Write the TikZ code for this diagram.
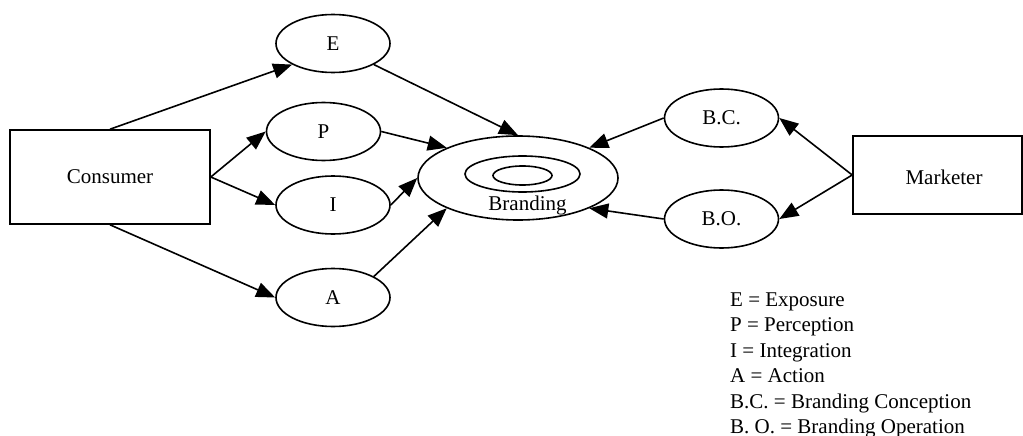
\documentclass[tikz,border=0pt]{standalone}
\usepackage{fontspec}
\setmainfont{Liberation Serif}
\usetikzlibrary{shapes.geometric,arrows.meta}

\begin{document}
\begin{tikzpicture}[x=1pt,y=-1pt,
  every node/.style={inner sep=0pt,font=\fontsize{21}{25.4}\selectfont},
  stage/.style={draw,ellipse,line width=1.6pt,minimum width=114pt,minimum height=58pt},
  party/.style={draw,rectangle,line width=1.6pt},
  ring/.style={draw,ellipse,line width=1.6pt},
  flow/.style={line width=1.6pt,-{Triangle[length=19pt,width=15pt]}},
  legend/.style={anchor=base west}]
  \useasboundingbox (0,0) rectangle (1023,436);

  % actors
  \node[party,minimum width=200pt,minimum height=94pt] (consumer) at (110,177) {Consumer};
  \node[party,minimum width=169pt,minimum height=78pt] (marketer) at (937.5,175) {};
  \node (marketertext) at (944,177) {Marketer};

  % consumer-side stages
  \node[stage] (E) at (333,43.5) {E};
  \node[stage] (P) at (323.5,131.5) {P};
  \node[stage] (I) at (333,205) {I};
  \node[stage] (A) at (333,297.5) {A};

  % marketer-side stages
  \node[stage] (BC) at (721.5,118) {B.C.};
  \node[stage] (BO) at (721.5,219) {B.O.};

  % branding target
  \node[ring,minimum width=200pt,minimum height=84pt] (brand) at (518,178) {};
  \node[ring,minimum width=115pt,minimum height=36pt] (brandmid) at (522.5,174) {};
  \node[ring,minimum width=59pt,minimum height=19pt] (brandcore) at (522.5,175.5) {};
  \node[anchor=base] (brandtext) at (527.5,210) {Branding};

  % consumer flows
  \draw[flow] (consumer.north) -- (E.south west);
  \draw[flow] (consumer.east) -- (P.west);
  \draw[flow] (consumer.east) -- (I.west);
  \draw[flow] (consumer.south) -- (A.west);

  \draw[flow] (E.south east) -- (brand.north);
  \draw[flow] (P.east) -- (brand.north west);
  \draw[flow] (I.east) -- (brand.west);
  \draw[flow] (A.north east) -- (brand.south west);

  % marketer flows
  \draw[flow] (marketer.west) -- (BC.east);
  \draw[flow] (marketer.west) -- (BO.east);
  \draw[flow] (BC.west) -- (brand.north east);
  \draw[flow] (BO.west) -- (brand.south east);

  % key
  \node[legend] (leg1) at (730,306) {E = Exposure};
  \node[legend] (leg2) at (730,331.5) {P = Perception};
  \node[legend] (leg3) at (730,357) {I = Integration};
  \node[legend] (leg4) at (730,382.5) {A = Action};
  \node[legend] (leg5) at (730,408) {B.C. = Branding Conception};
  \node[legend] (leg6) at (730,433.5) {B. O. = Branding Operation};
\end{tikzpicture}
\end{document}
